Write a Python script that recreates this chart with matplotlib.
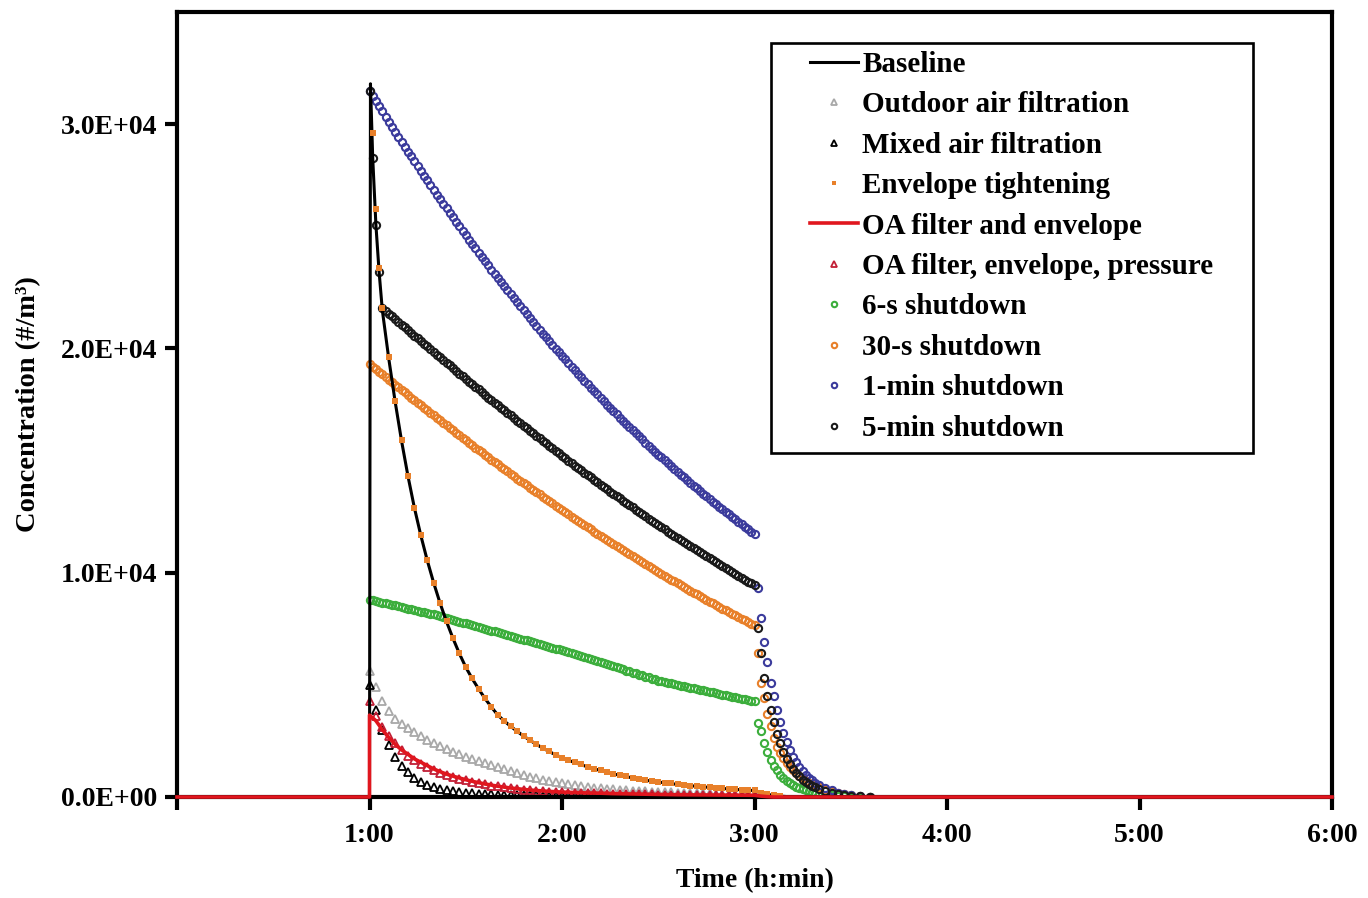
import matplotlib
matplotlib.use("Agg")
import matplotlib.pyplot as plt
from matplotlib.patches import Rectangle

plt.rcParams['font.family'] = ['Liberation Serif', 'DejaVu Serif']
plt.rcParams['font.weight'] = 'bold'

# ---------------- data (concentration in #/m3, time in minutes from 0:00) ----------------
XTICKS = [0, 60, 120, 180, 240, 300, 360]
XTICK_LABELS = ['', '1:00', '2:00', '3:00', '4:00', '5:00', '6:00']
YTICKS = [0, 10000, 20000, 30000]
YTICK_LABELS = ['0.0E+00', '1.0E+04', '2.0E+04', '3.0E+04']

LABELS = ['Baseline', 'Outdoor air filtration', 'Mixed air filtration', 'Envelope tightening',
          'OA filter and envelope', 'OA filter, envelope, pressure', '6-s shutdown',
          '30-s shutdown', '1-min shutdown', '5-min shutdown']

T_1MIN = list(range(60, 181))          # 1:00 .. 3:00 every minute
T_2MIN = list(range(60, 181, 2))       # 1:00 .. 3:00 every two minutes
T_DROP = [181, 182, 183, 184, 185, 186, 187, 188, 189, 190, 191, 192, 193, 194, 195,
          196, 197, 198, 199, 200, 202, 204, 206, 208, 210, 213, 216]
T_TAIL = [182, 184, 186]

BASE_T = [0, 60, 60.3, 61, 62, 63, 64] + T_2MIN[3:] + [182, 184, 186, 188, 190, 192, 360]
BASE_V = [0, 0, 31800, 28500, 25500, 23400, 21700,
          19550, 17620, 15870, 14300, 12890, 11660, 10550, 9550, 8640, 7820,
          7080, 6400, 5790, 5280, 4820, 4390, 4010, 3650, 3390, 3150,
          2930, 2720, 2530, 2350, 2180, 2030, 1880, 1750, 1640, 1530,
          1440, 1340, 1260, 1180, 1100, 1030, 970, 910, 850, 790,
          750, 710, 670, 630, 600, 560, 530, 500, 480, 450,
          430, 400, 380, 360, 340, 320, 300, 290,
          200, 120, 70, 40, 20, 0, 0]

ENV_T = [61, 62, 63, 64] + T_2MIN[3:] + [182, 184, 186, 188]
ENV_V = [29600, 26200, 23600, 21800,
         19600, 17650, 15900, 14320, 12900, 11680, 10560, 9560, 8650, 7830,
         7090, 6410, 5800, 5290, 4830, 4400, 4020, 3660, 3400, 3160,
         2940, 2730, 2540, 2360, 2190, 2040, 1890, 1760, 1650, 1540,
         1450, 1350, 1270, 1190, 1110, 1040, 980, 920, 860, 800,
         760, 720, 680, 640, 610, 570, 540, 510, 490, 460,
         440, 410, 390, 370, 350, 330, 310, 300,
         200, 120, 70, 40]

OUTDOOR_FILT = [5600, 4900, 4300, 3850, 3500, 3250, 3060, 2880, 2720, 2560,
                2400, 2260, 2130, 2010, 1900, 1790, 1690, 1590, 1500, 1410,
                1320, 1230, 1150, 1070, 990, 910, 840, 770, 710, 660,
                610, 560, 520, 480, 450, 420, 390, 360, 340, 320,
                300, 280, 270, 260, 240, 230, 220, 210, 200, 190,
                180, 170, 160, 160, 150, 140, 140, 130, 130, 120,
                120]
OUTDOOR_TAIL = [60, 25, 10]

MIXED_FILT = [5000, 3900, 3000, 2300, 1800, 1400, 1100, 850, 680, 540,
              430, 360, 300, 260, 220, 190, 170, 150, 130, 120,
              110, 100, 90, 85, 80, 75, 70, 65, 60, 55,
              50, 48, 46, 44, 42, 40, 38, 36, 34, 32,
              30, 29, 28, 27, 26, 25, 24, 23, 22, 21,
              20, 19, 18, 17, 16, 15, 14, 13, 12, 11,
              10]
MIXED_TAIL = [5, 2, 0]

OA_ENV = [3650, 3400, 3000, 2650, 2350, 2100, 1900, 1700, 1550, 1400,
          1250, 1130, 1020, 930, 850, 770, 700, 640, 580, 530,
          480, 440, 400, 370, 340, 310, 290, 270, 250, 235,
          220, 210, 200, 190, 180, 175, 170, 160, 150, 145,
          140, 135, 130, 125, 120, 115, 110, 105, 100, 98,
          96, 94, 92, 90, 88, 86, 84, 82, 80, 78,
          76]
OA_ENV_TAIL = [40, 15, 0]

OA_ENV_P = [4300, 3600, 3100, 2700, 2400, 2100, 1850, 1650, 1480, 1330,
            1200, 1080, 980, 890, 810, 740, 670, 610, 560, 510,
            470, 430, 390, 360, 330, 310, 280, 260, 240, 230,
            210, 200, 190, 180, 170, 165, 160, 150, 145, 140,
            135, 130, 125, 120, 115, 110, 105, 100, 97, 94,
            91, 88, 86, 84, 82, 80, 78, 76, 74, 72,
            70]
OA_ENV_P_TAIL = [35, 12, 0]

SHUT_6S = [8800, 8770, 8730, 8700, 8670, 8640, 8600, 8570, 8540, 8500,
           8470, 8440, 8400, 8370, 8340, 8310, 8270, 8240, 8210, 8170,
           8140, 8100, 8060, 8020, 7980, 7940, 7900, 7860, 7820, 7780,
           7740, 7700, 7660, 7620, 7580, 7540, 7500, 7460, 7420, 7380,
           7340, 7300, 7260, 7220, 7180, 7140, 7100, 7060, 7020, 6980,
           6940, 6900, 6860, 6820, 6780, 6740, 6700, 6660, 6620, 6580,
           6540, 6500, 6450, 6410, 6360, 6320, 6270, 6230, 6180, 6140,
           6090, 6050, 6000, 5960, 5910, 5870, 5820, 5780, 5730, 5690,
           5640, 5600, 5550, 5510, 5460, 5420, 5370, 5330, 5280, 5240,
           5190, 5160, 5130, 5100, 5070, 5040, 5000, 4970, 4940, 4910,
           4880, 4850, 4820, 4790, 4750, 4720, 4690, 4660, 4630, 4600,
           4570, 4540, 4510, 4480, 4440, 4410, 4380, 4350, 4320, 4290,
           4260]
SHUT_6S_DROP = [3300, 2950, 2400, 2000, 1650, 1400, 1200, 1000, 850, 720,
                620, 530, 460, 400, 340, 290, 250, 210, 180, 150,
                110, 80, 50, 30, 20, 10, 0]

SHUT_30S = [19300, 19190, 19070, 18960, 18840, 18730, 18610, 18500, 18380, 18270,
            18150, 18040, 17920, 17810, 17690, 17580, 17470, 17360, 17240, 17130,
            17010, 16900, 16790, 16680, 16570, 16460, 16350, 16240, 16120, 16010,
            15900, 15800, 15690, 15580, 15470, 15370, 15260, 15150, 15040, 14940,
            14830, 14730, 14620, 14520, 14410, 14310, 14200, 14100, 14000, 13900,
            13790, 13690, 13590, 13490, 13390, 13290, 13190, 13090, 12990, 12890,
            12790, 12700, 12600, 12500, 12400, 12310, 12210, 12120, 12020, 11930,
            11830, 11740, 11640, 11550, 11460, 11370, 11270, 11180, 11090, 11000,
            10910, 10820, 10730, 10640, 10550, 10470, 10380, 10290, 10200, 10120,
            10030, 9950, 9860, 9780, 9690, 9610, 9520, 9440, 9360, 9280,
            9190, 9110, 9030, 8950, 8870, 8790, 8710, 8630, 8550, 8480,
            8400, 8330, 8250, 8180, 8100, 8030, 7950, 7880, 7800, 7730,
            7650]
SHUT_30S_DROP = [6400, 5100, 4400, 3700, 3150, 2620, 2250, 1970, 1730, 1530,
                 1350, 1200, 1060, 940, 830, 730, 640, 570, 500, 450,
                 360, 270, 190, 130, 80, 40, 15]

SHUT_1MIN = [31500, 31260, 31030, 30800, 30570, 30340, 30110, 29880, 29660, 29440,
             29220, 29000, 28780, 28560, 28340, 28120, 27910, 27700, 27490, 27280,
             27070, 26860, 26660, 26450, 26250, 26040, 25840, 25640, 25440, 25240,
             25050, 24850, 24660, 24460, 24270, 24080, 23890, 23700, 23510, 23320,
             23140, 22950, 22770, 22590, 22410, 22230, 22050, 21870, 21700, 21520,
             21350, 21170, 21000, 20830, 20660, 20490, 20330, 20160, 19990, 19830,
             19670, 19510, 19350, 19190, 19030, 18870, 18710, 18550, 18400, 18250,
             18100, 17950, 17800, 17650, 17500, 17350, 17210, 17060, 16920, 16770,
             16630, 16490, 16350, 16210, 16080, 15940, 15800, 15660, 15530, 15400,
             15270, 15140, 15010, 14880, 14750, 14620, 14500, 14370, 14250, 14120,
             14000, 13880, 13760, 13640, 13520, 13400, 13290, 13170, 13050, 12930,
             12820, 12710, 12600, 12490, 12380, 12270, 12160, 12050, 11940, 11830,
             11730]
SHUT_1MIN_DROP = [9300, 8000, 6900, 6000, 5100, 4500, 3900, 3350, 2850, 2450,
                  2100, 1800, 1550, 1330, 1150, 1000, 860, 740, 630, 530,
                  400, 300, 200, 120, 70, 30, 10]

SHUT_5MIN = [31500, 28500, 25500, 23400,
             21800, 21680, 21550, 21430, 21310, 21180, 21060, 20940, 20820, 20690,
             20570, 20450, 20330, 20210, 20090, 19960, 19840, 19720, 19600, 19480,
             19360, 19240, 19120, 19000, 18880, 18760, 18640, 18520, 18400, 18280,
             18170, 18050, 17930, 17810, 17700, 17580, 17470, 17350, 17240, 17120,
             17010, 16890, 16780, 16660, 16550, 16440, 16330, 16210, 16100, 15990,
             15880, 15770, 15660, 15550, 15440, 15330, 15220, 15110, 15000, 14890,
             14780, 14670, 14570, 14460, 14360, 14250, 14140, 14030, 13930, 13820,
             13720, 13620, 13520, 13410, 13310, 13210, 13110, 13010, 12910, 12810,
             12710, 12610, 12510, 12410, 12310, 12210, 12120, 12020, 11930, 11830,
             11740, 11640, 11550, 11450, 11360, 11270, 11180, 11090, 11000, 10910,
             10820, 10730, 10640, 10550, 10460, 10370, 10290, 10200, 10110, 10020,
             9940, 9850, 9770, 9680, 9600, 9520, 9440]
SHUT_5MIN_DROP = [7550, 6400, 5300, 4500, 3900, 3350, 2800, 2400, 2000, 1700,
                  1450, 1250, 1070, 930, 780, 680, 580, 500, 430, 370,
                  280, 200, 140, 100, 60, 30, 10]

# ---------------- figure ----------------
W, H = 1368, 898
fig = plt.figure(figsize=(W / 100, H / 100), dpi=100)
L, R, T, B = 177, 1332, 12, 797
ax = fig.add_axes([L / W, 1 - B / H, (R - L) / W, (B - T) / H])

C_BLUE = '#3b3b9c'
C_ORANGE = '#e8802a'
C_GREEN = '#3cae3c'
C_GRAY = '#a8a8a8'
C_RED = '#e0161e'
C_DRED = '#c21f36'
C_BLACK = '#1a1a1a'

circ = dict(linestyle='none', marker='o', markersize=5.2, markerfacecolor='none', markeredgewidth=1.5)
tri = dict(linestyle='none', marker='^', markersize=5.6, markerfacecolor='none', markeredgewidth=1.3)

handles = []
h, = ax.plot(BASE_T, BASE_V, color='black', lw=2.2, zorder=3, clip_on=False)
handles.append(h)
h, = ax.plot(T_2MIN + T_TAIL, OUTDOOR_FILT + OUTDOOR_TAIL, color=C_GRAY, markeredgecolor=C_GRAY, **tri)
handles.append(h)
h, = ax.plot(T_2MIN + T_TAIL, MIXED_FILT + MIXED_TAIL, color='black', markeredgecolor='black', **tri)
handles.append(h)
h, = ax.plot(ENV_T, ENV_V, linestyle='none', marker='s', markersize=3.8, color=C_ORANGE,
             markeredgewidth=0, zorder=3)
handles.append(h)
h, = ax.plot([0, 60] + T_2MIN + T_TAIL + [360], [0, 0] + OA_ENV + OA_ENV_TAIL + [0],
             color=C_RED, lw=2.6, zorder=3, clip_on=False)
handles.append(h)
h, = ax.plot(T_2MIN + T_TAIL, OA_ENV_P + OA_ENV_P_TAIL, color=C_DRED, markeredgecolor=C_DRED, **tri)
handles.append(h)
h, = ax.plot(T_1MIN + T_DROP, SHUT_6S + SHUT_6S_DROP, color=C_GREEN, markeredgecolor=C_GREEN, **circ)
handles.append(h)
h, = ax.plot(T_1MIN + T_DROP, SHUT_30S + SHUT_30S_DROP, color=C_ORANGE, markeredgecolor=C_ORANGE, **circ)
handles.append(h)
h, = ax.plot(T_1MIN + T_DROP, SHUT_1MIN + SHUT_1MIN_DROP, color=C_BLUE, markeredgecolor=C_BLUE, **circ)
handles.append(h)
h, = ax.plot(T_1MIN + T_DROP, SHUT_5MIN + SHUT_5MIN_DROP, color=C_BLACK, markeredgecolor=C_BLACK, **circ)
handles.append(h)

ax.set_xlim(0, 360)
ax.set_ylim(0, 35000)
ax.set_xticks(XTICKS)
ax.set_xticklabels(XTICK_LABELS)
ax.set_yticks(YTICKS)
ax.set_yticklabels(YTICK_LABELS)
ax.tick_params(direction='out', length=9, width=3, labelsize=20, color='black')
ax.tick_params(axis='x', pad=10)
ax.tick_params(axis='y', pad=5)
for s in ax.spines.values():
    s.set_linewidth(3)
    s.set_zorder(2.6)

ax.set_xlabel('Time (h:min)', fontsize=20, fontweight='bold', labelpad=14)
ax.set_ylabel('Concentration (#/m³)', fontsize=20.5, fontweight='bold', labelpad=14)

# legend box
ax.add_patch(Rectangle(((771 - L) / (R - L), (B - 453) / (B - T)), (1253 - 771) / (R - L),
                       (453 - 43) / (B - T), transform=ax.transAxes, facecolor='white',
                       edgecolor='black', lw=1.9, zorder=4.5))
ax.legend(handles, LABELS, loc='upper left',
          bbox_to_anchor=((810 - L) / (R - L), (B - 51) / (B - T)),
          frameon=False, borderpad=0, borderaxespad=0, handlelength=1.65,
          handletextpad=0.15, labelspacing=0.46, fontsize=21, markerscale=0.75,
          numpoints=1)

fig.savefig('out.png', dpi=100)
